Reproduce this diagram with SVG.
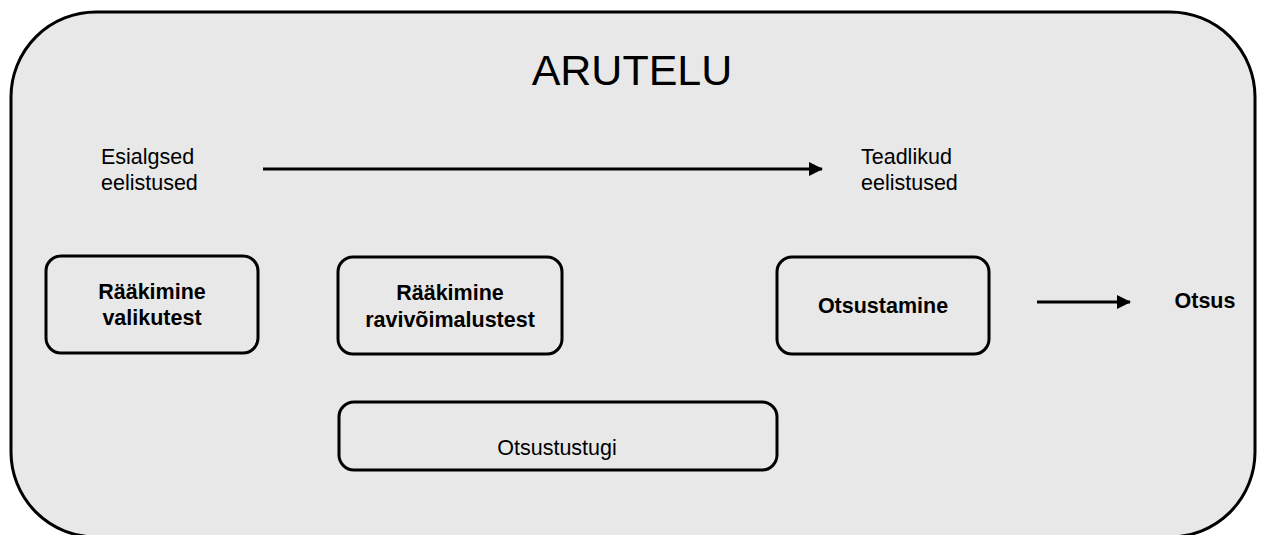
<svg xmlns="http://www.w3.org/2000/svg" width="1262" height="535" viewBox="0 0 1262 535">
<style>
.box{fill:#e8e8e8;stroke:#000;stroke-width:3}
.t{font-family:"Liberation Sans",Arial,sans-serif;font-size:21.5px;fill:#000;text-anchor:middle}
.tl{font-family:"Liberation Sans",Arial,sans-serif;font-size:21.5px;fill:#000}
.b{font-weight:bold}
.c{stroke:#000;stroke-width:3;fill:none}
</style>
<defs>
<marker id="ah" viewBox="0 0 14 14" refX="13" refY="7" markerWidth="14" markerHeight="14" markerUnits="userSpaceOnUse" orient="auto">
<path d="M0,0 L14,7 L0,14 Z" fill="#000"/>
</marker>
</defs>
<rect width="1262" height="535" fill="#ffffff"/>
<g id="arutelu">
<rect x="11" y="12" width="1244" height="525" rx="85" ry="85" class="box"/>
<text x="632" y="85" class="t" style="font-size:43px">ARUTELU</text>
</g>
<g id="esialgsed">
<text x="101" y="164" class="tl">Esialgsed</text>
<text x="101" y="190" class="tl">eelistused</text>
</g>
<g id="teadlikud">
<text x="861" y="164" class="tl">Teadlikud</text>
<text x="861" y="190" class="tl">eelistused</text>
</g>
<g id="valikutest">
<rect x="46" y="256" width="212" height="97" rx="15" class="box"/>
<text x="152" y="299" class="t b">Rääkimine</text>
<text x="152" y="325" class="t b">valikutest</text>
</g>
<g id="ravivoimalustest">
<rect x="338" y="257" width="224" height="97" rx="15" class="box"/>
<text x="450" y="300" class="t b">Rääkimine</text>
<text x="450" y="327" class="t b">ravivõimalustest</text>
</g>
<g id="otsustamine">
<rect x="777" y="257" width="212" height="97" rx="15" class="box"/>
<text x="883" y="313" class="t b">Otsustamine</text>
</g>
<g id="otsustustugi">
<rect x="339" y="402" width="438" height="68" rx="15" class="box"/>
<text x="557" y="455" class="t">Otsustustugi</text>
</g>
<g id="otsus">
<text x="1205" y="308" class="t b">Otsus</text>
</g>
<g id="connectors">
<line x1="263" y1="169" x2="822" y2="169" class="c" marker-end="url(#ah)"/>
<line x1="1037" y1="302" x2="1130" y2="302" class="c" marker-end="url(#ah)"/>
</g>
</svg>
